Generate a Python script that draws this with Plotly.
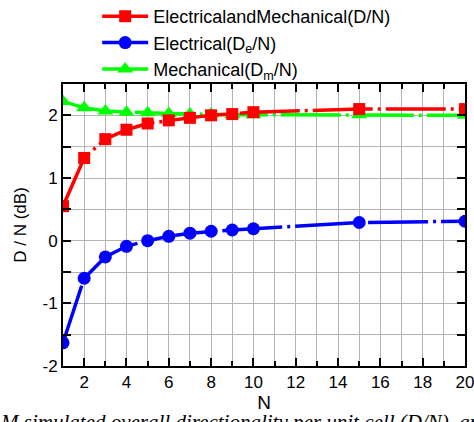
import plotly.graph_objects as go

N = [1, 2, 3, 4, 5, 6, 7, 8, 9, 10, 15, 20]
em_vals = [0.55, 1.32, 1.62, 1.77, 1.87, 1.92, 1.96, 2.0, 2.02, 2.05, 2.1, 2.1]
e_vals = [-1.63, -0.6, -0.26, -0.09, 0.0, 0.07, 0.12, 0.15, 0.17, 0.19, 0.29, 0.31]
m_vals = [2.22, 2.12, 2.07, 2.05, 2.04, 2.03, 2.02, 2.02, 2.01, 2.01, 2.01, 2.0]

x_ticks = [2, 4, 6, 8, 10, 12, 14, 16, 18, 20]
x_labels = ["2", "4", "6", "8", "10", "12", "14", "16", "18", "20"]
y_ticks = [-2, -1, 0, 1, 2]
y_labels = ["-2", "-1", "0", "1", "2"]

font = "Liberation Sans"
dash = "60px,5px,3px,5px"

fig = go.Figure()
fig.add_trace(go.Scatter(
    x=N, y=m_vals, mode="lines+markers", name="Mechanical(D<sub>m</sub>/N)",
    line=dict(color="#00ff00", width=3.5, dash=dash),
    marker=dict(symbol="triangle-up", size=14, color="#00ff00")))
fig.add_trace(go.Scatter(
    x=N, y=e_vals, mode="lines+markers", name="Electrical(D<sub>e</sub>/N)",
    line=dict(color="#0000ff", width=3.5, dash=dash),
    marker=dict(symbol="circle", size=13, color="#0000ff")))
fig.add_trace(go.Scatter(
    x=N, y=em_vals, mode="lines+markers", name="ElectricalandMechanical(D/N)",
    line=dict(color="#ff0000", width=3.5, dash=dash),
    marker=dict(symbol="square", size=12, color="#ff0000")))

fig.update_layout(
    width=474, height=422,
    margin=dict(l=63, r=9, t=84, b=56, autoexpand=False),
    paper_bgcolor="white", plot_bgcolor="white",
    font=dict(family=font, size=17, color="black"),
    showlegend=True,
    legend=dict(x=0.085, y=1.305, xanchor="left", yanchor="top", yref="paper",
                font=dict(size=18, family=font),
                traceorder="reversed", bgcolor="rgba(0,0,0,0)",
                itemwidth=46),
    xaxis=dict(range=[1, 20], tickvals=x_ticks, ticktext=x_labels,
               ticks="inside", ticklen=8, ticklabeloverflow="allow",
               tickwidth=2, tickcolor="black",
               showline=True, linecolor="black", linewidth=2, mirror="ticks",
               showgrid=True, gridcolor="#b4b4b4", gridwidth=1,
               minor=dict(dtick=1, showgrid=True, gridcolor="#b4b4b4",
                          ticks="inside", ticklen=5, tickcolor="black", tickwidth=2),
               zeroline=False,
               title=dict(text="N", font=dict(size=19), standoff=3),
               tickfont=dict(size=17)),
    yaxis=dict(range=[-2, 2.5], tickvals=y_ticks, ticktext=y_labels,
               ticks="inside", ticklen=8, ticklabeloverflow="allow",
               tickwidth=2, tickcolor="black",
               showline=True, linecolor="black", linewidth=2, mirror="ticks",
               showgrid=True, gridcolor="#b4b4b4", gridwidth=1,
               minor=dict(dtick=0.5, showgrid=True, gridcolor="#b4b4b4",
                          ticks="inside", ticklen=8, tickcolor="black", tickwidth=2),
               zeroline=False,
               title=dict(text="D / N (dB)", font=dict(size=17), standoff=12),
               tickfont=dict(size=17)),
)

fig.add_annotation(
    text="<i>M simulated overall directionality per unit cell (D/N), an</i>",
    xref="paper", yref="paper", x=-0.162, y=-0.2, xanchor="left", yanchor="middle",
    showarrow=False, font=dict(family="Liberation Serif", size=21))

fig.write_html(
    "out.html",
    config={"displayModeBar": False},
    post_script="document.body.style.margin='0';document.body.style.overflow='hidden';"
                "document.documentElement.style.overflow='hidden';")
